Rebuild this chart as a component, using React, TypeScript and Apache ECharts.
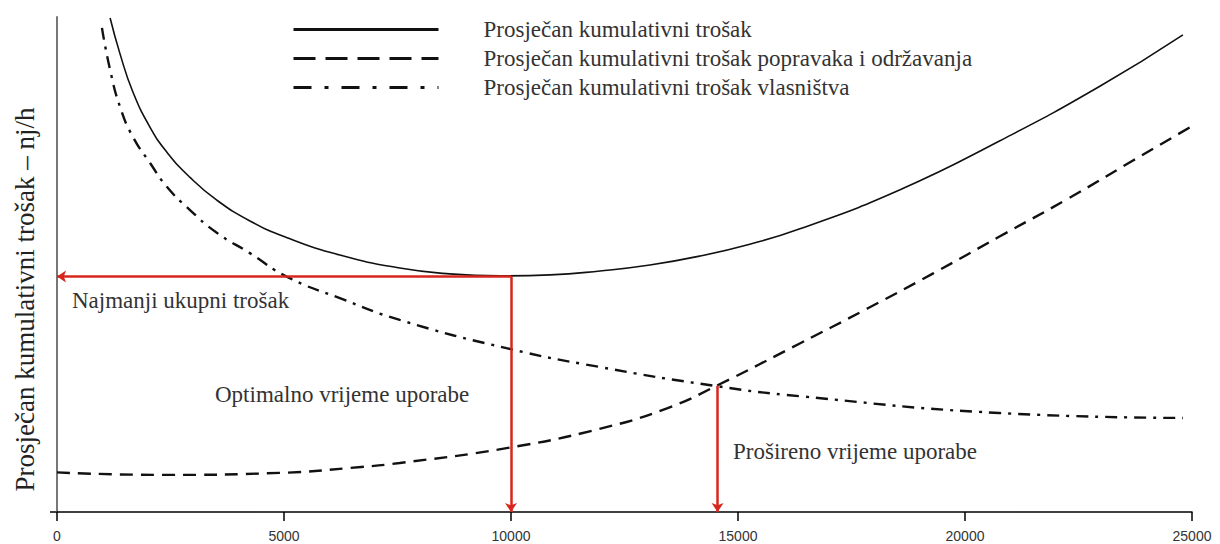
import React, { useEffect, useRef } from 'react';
import * as echarts from 'echarts';

const seriesNames = [
  'Prosječan kumulativni trošak',
  'Prosječan kumulativni trošak popravaka i održavanja',
  'Prosječan kumulativni trošak vlasništva',
];

const yAxisTitle = 'Prosječan kumulativni trošak – nj/h';

// [operating hours, cost]
const totalCost: [number, number][] = [
  [1170, 99.8], [1390, 92.5], [1670, 84.9], [2050, 77.7], [2420, 72.7],
  [2930, 67.6], [3520, 63.0], [4250, 58.8], [5070, 55.4], [6230, 51.9],
  [7550, 49.3], [8650, 48.1], [9760, 47.7], [10860, 47.9], [11960, 48.7],
  [13060, 49.9], [14160, 51.7], [15260, 54.1], [16365, 57.2], [18570, 65.1],
  [20770, 75.0], [22970, 86.0], [24800, 96.4],
];

const repairCost: [number, number][] = [
  [0, 8.0], [2300, 7.5], [4900, 7.9], [6700, 9.1], [7550, 9.9],
  [9900, 12.9], [11950, 16.8], [13450, 21.0], [14550, 25.6], [16350, 34.0],
  [17850, 41.1], [19300, 48.2], [20750, 55.6], [22250, 63.2], [23700, 71.0],
  [24950, 77.7],
];

const ownershipCost: [number, number][] = [
  [990, 97.8], [1170, 89.3], [1390, 81.8], [1670, 75.8], [2050, 70.5],
  [2420, 65.7], [2930, 61.0], [3520, 56.4], [4250, 52.3], [5070, 47.5],
  [6230, 43.2], [7550, 38.8], [9900, 33.1], [11950, 29.3], [14550, 25.4],
  [16350, 23.4], [20750, 20.0], [24800, 19.0],
];

const xMin = 0;
const xMax = 25000;
const xInterval = 5000;

const optimumHours = 10000;
const minimumCost = 47.6;
const extendedHours = 14550;
const crossingCost = 25.5;

const annotations = [
  { text: 'Najmanji ukupni trošak', x: 72, y: 300 },
  { text: 'Optimalno vrijeme uporabe', x: 215, y: 394 },
  { text: 'Prošireno vrijeme uporabe', x: 733, y: 451 },
];

const serif = 'Liberation Serif, Times New Roman, serif';
const red = '#d8261d';

export default function App() {
  const ref = useRef<HTMLDivElement>(null);

  useEffect(() => {
    if (!ref.current) return;
    const chart = echarts.init(ref.current, undefined, { renderer: 'svg' });
    chart.setOption({
      animation: false,
      backgroundColor: '#fff',
      grid: { left: 57, right: 28, top: 17, bottom: 32 },
      legend: {
        orient: 'vertical',
        left: 292,
        top: 18,
        padding: 0,
        itemWidth: 145,
        itemHeight: 12,
        itemGap: 6,
        selectedMode: false,
        itemStyle: { opacity: 0 },
        textStyle: { fontFamily: serif, fontSize: 23, color: '#333', padding: [0, 0, 0, 40] },
        data: [
          { name: seriesNames[0], lineStyle: { color: '#111', width: 3, type: 'solid' } },
          { name: seriesNames[1], lineStyle: { color: '#111', width: 3, type: [22, 10] } },
          { name: seriesNames[2], lineStyle: { color: '#111', width: 3, type: [18, 13, 4, 13] } },
        ],
      },
      xAxis: {
        type: 'value',
        min: xMin,
        max: xMax,
        interval: xInterval,
        axisLine: { show: true, lineStyle: { color: '#000', width: 1.5 } },
        axisTick: { show: true, length: 9, lineStyle: { color: '#000', width: 1.5 } },
        axisLabel: {
          margin: 17,
          fontFamily: 'Liberation Sans, Arial, sans-serif',
          fontSize: 14,
          color: '#333',
          formatter: (v: number) => String(v),
        },
        splitLine: { show: false },
      },
      yAxis: {
        type: 'value',
        min: 0,
        max: 100,
        name: yAxisTitle,
        nameLocation: 'middle',
        nameGap: 19,
        nameTextStyle: { fontFamily: serif, fontSize: 27, color: '#222', padding: [0, 70, 0, 0] },
        axisLine: { show: true, lineStyle: { color: '#777', width: 2 } },
        axisTick: { show: false },
        axisLabel: { show: false },
        splitLine: { show: false },
      },
      series: [
        {
          name: seriesNames[0],
          type: 'line',
          data: totalCost,
          smooth: 0.5,
          symbol: 'none',
          lineStyle: { color: '#111', width: 1.6 },
          itemStyle: { color: '#111' },
          z: 3,
          markLine: {
            silent: true,
            symbol: ['none', 'arrow'],
            symbolSize: 9,
            label: { show: false },
            lineStyle: { color: red, width: 2.5, type: 'solid' },
            data: [
              [{ coord: [optimumHours, minimumCost] }, { coord: [xMin, minimumCost] }],
              [{ coord: [optimumHours, minimumCost] }, { coord: [optimumHours, 0] }],
              [{ coord: [extendedHours, crossingCost] }, { coord: [extendedHours, 0] }],
            ],
          },
        },
        {
          name: seriesNames[1],
          type: 'line',
          data: repairCost,
          smooth: 0.5,
          symbol: 'none',
          lineStyle: { color: '#111', width: 2.4, type: [13, 8] },
          itemStyle: { color: '#111' },
          z: 2,
        },
        {
          name: seriesNames[2],
          type: 'line',
          data: ownershipCost,
          smooth: 0.5,
          symbol: 'none',
          lineStyle: { color: '#111', width: 2.4, type: [12, 7, 3, 7] },
          itemStyle: { color: '#111' },
          z: 2,
        },
      ],
      graphic: [
        { type: 'line', shape: { x1: 50, y1: 512, x2: 57, y2: 512 }, style: { stroke: '#000', lineWidth: 1.5 } },
        ...annotations.map((a) => ({
          type: 'text',
          x: a.x,
          y: a.y,
          silent: true,
          style: {
            text: a.text,
            fontFamily: serif,
            fontSize: 23,
            fill: '#333',
            verticalAlign: 'middle',
            align: 'left',
          },
        })),
      ],
    });
    return () => chart.dispose();
  }, []);

  return (
    <div
      ref={ref}
      style={{ position: 'fixed', left: 0, top: 0, width: 1220, height: 544, background: '#fff' }}
    />
  );
}
